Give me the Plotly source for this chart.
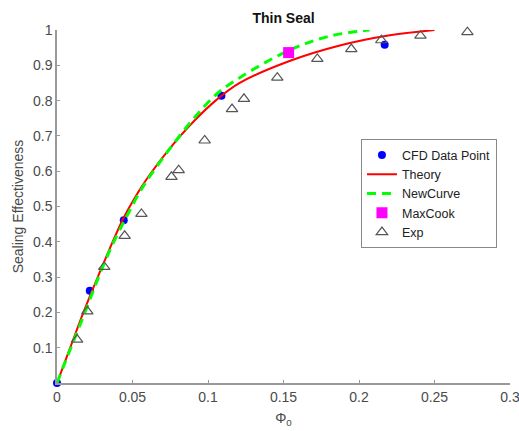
import plotly.graph_objects as go

# Data
cfd_x = [0.0, 0.0217, 0.0442, 0.1089, 0.217]
cfd_y = [0.0, 0.261, 0.461, 0.814, 0.958]

theory_x = [0.0, 0.009, 0.0175, 0.0265, 0.0439, 0.0537, 0.0614, 0.0746, 0.0903, 0.1056, 0.121, 0.154, 0.1873, 0.2204, 0.25]
theory_y = [0.0, 0.103, 0.2, 0.295, 0.466, 0.540, 0.590, 0.664, 0.740, 0.802, 0.850, 0.912, 0.956, 0.985, 1.0]

newcurve_x = [0.0, 0.0092, 0.0185, 0.0275, 0.0365, 0.0459, 0.0548, 0.0614, 0.0746, 0.0903, 0.1056, 0.121, 0.154, 0.18, 0.207]
newcurve_y = [0.0, 0.1, 0.2, 0.3, 0.39, 0.47, 0.541, 0.585, 0.663, 0.748, 0.818, 0.865, 0.943, 0.982, 1.0]

maxcook_x = [0.1534]
maxcook_y = [0.936]

exp_x = [0.0133, 0.0201, 0.0313, 0.0448, 0.0559, 0.0758, 0.0806, 0.0978, 0.1159, 0.1238,
         0.1459, 0.1724, 0.1949, 0.2148, 0.2407, 0.2718]
exp_y = [0.123, 0.203, 0.329, 0.417, 0.479, 0.584, 0.603, 0.687, 0.776, 0.805,
         0.865, 0.918, 0.946, 0.971, 0.984, 0.994]

x_ticks = [0, 0.05, 0.1, 0.15, 0.2, 0.25, 0.3]
x_tick_text = ["0", "0.05", "0.1", "0.15", "0.2", "0.25", "0.3"]
y_ticks = [0.1, 0.2, 0.3, 0.4, 0.5, 0.6, 0.7, 0.8, 0.9, 1.0]
y_tick_text = ["0.1", "0.2", "0.3", "0.4", "0.5", "0.6", "0.7", "0.8", "0.9", "1"]

FONT = "Arial, Liberation Sans, sans-serif"
AX = "#4a4a4a"

fig = go.Figure()
fig.add_trace(go.Scatter(x=cfd_x, y=cfd_y, mode="markers", name="CFD Data Point",
                         marker=dict(symbol="circle", size=8, color="#0000ff"),
                         cliponaxis=False))
fig.add_trace(go.Scatter(x=theory_x, y=theory_y, mode="lines", name="Theory",
                         line=dict(color="#ff0000", width=2, shape="spline", smoothing=1.0)))
fig.add_trace(go.Scatter(x=newcurve_x, y=newcurve_y, mode="lines", name="NewCurve",
                         line=dict(color="#00ff00", width=3, dash="9px,6px", shape="spline", smoothing=1.0)))
fig.add_trace(go.Scatter(x=maxcook_x, y=maxcook_y, mode="markers", name="MaxCook",
                         marker=dict(symbol="square", size=11, color="#ff00ff")))
fig.add_trace(go.Scatter(x=exp_x, y=exp_y, mode="markers", name="Exp",
                         marker=dict(symbol="triangle-up-open", size=10, color="#555555",
                                     line=dict(width=1.2, color="#555555")),
                         cliponaxis=False))

fig.update_layout(
    width=519, height=431,
    margin=dict(l=57, r=9, t=30, b=48),
    plot_bgcolor="white", paper_bgcolor="white",
    font=dict(family=FONT, size=14, color=AX),
    title=dict(text="<b>Thin Seal</b>", x=0.5463, xanchor="center", y=0.958, yanchor="middle",
               font=dict(family=FONT, size=14, color="#111111")),
    showlegend=True,
    legend=dict(x=0.671, y=0.69, xanchor="left", yanchor="top",
                bgcolor="white", bordercolor="#888888", borderwidth=1,
                font=dict(family=FONT, size=12.5, color="#222222"),
                tracegroupgap=0, itemwidth=30),
)
fig.update_xaxes(range=[0, 0.3], tickvals=x_ticks, ticktext=x_tick_text, automargin=False,
                 ticklabeloverflow="allow",
                 showgrid=False, zeroline=False, showline=True, linecolor="#999999", linewidth=1.5,
                 ticks="inside", ticklen=3, tickcolor="#999999",
                 tickfont=dict(family=FONT, size=14, color=AX),
                 title=dict(text="Φ<sub>0</sub>", font=dict(family=FONT, size=14, color=AX), standoff=10))
fig.update_yaxes(range=[0, 1], tickvals=y_ticks, ticktext=y_tick_text, automargin=False,
                 ticklabeloverflow="allow",
                 showgrid=False, zeroline=False, showline=True, linecolor="#999999", linewidth=1.5,
                 ticks="inside", ticklen=3, tickcolor="#999999",
                 tickfont=dict(family=FONT, size=14, color=AX),
                 title=dict(text="Sealing Effectiveness", font=dict(family=FONT, size=14, color=AX), standoff=6))

fig.write_html("out.html")
